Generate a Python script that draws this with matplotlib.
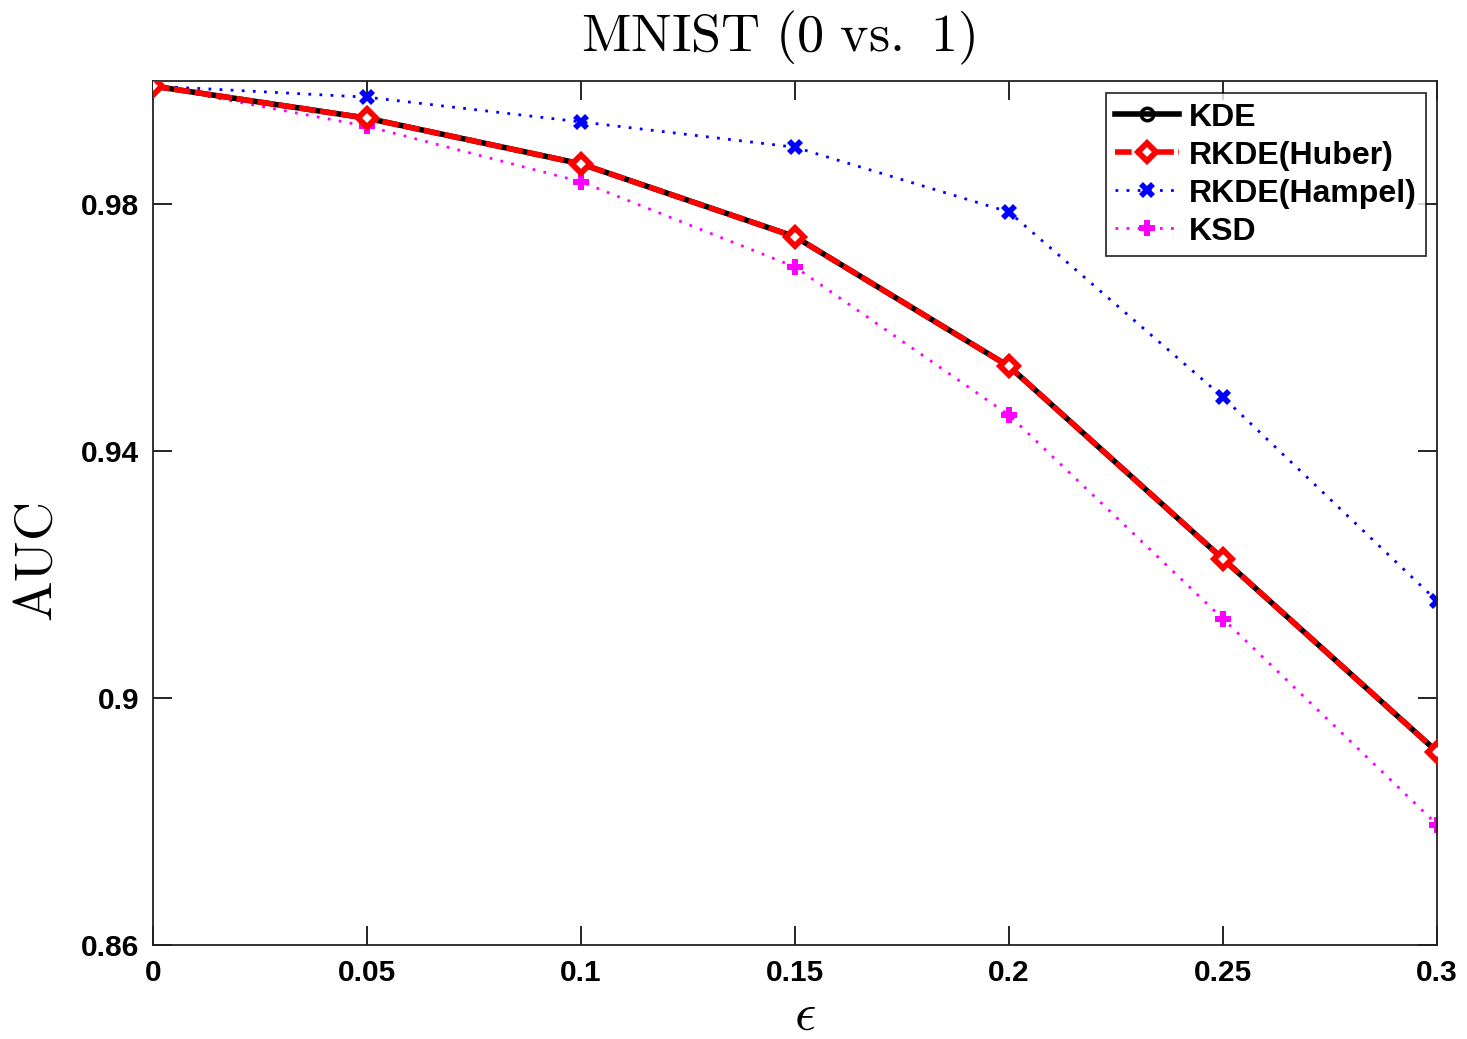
import matplotlib
matplotlib.use("Agg")
import matplotlib.pyplot as plt

eps = [0, 0.05, 0.1, 0.15, 0.2, 0.25, 0.3]
kde = [0.9991, 0.9939, 0.9865, 0.9747, 0.9537, 0.9225, 0.8913]
rkde_huber = [0.9991, 0.9939, 0.9865, 0.9747, 0.9537, 0.9225, 0.8913]
rkde_hampel = [0.9991, 0.9973, 0.9933, 0.9892, 0.9787, 0.9487, 0.9157]
ksd = [0.9991, 0.9926, 0.9836, 0.9698, 0.9458, 0.9128, 0.8795]
xticks = [0, 0.05, 0.1, 0.15, 0.2, 0.25, 0.3]
xticklabels = ["0", "0.05", "0.1", "0.15", "0.2", "0.25", "0.3"]
yticks = [0.86, 0.9, 0.94, 0.98]
yticklabels = ["0.86", "0.9", "0.94", "0.98"]

plt.rcParams['mathtext.fontset'] = 'cm'
fig = plt.figure(figsize=(14.67, 10.39), dpi=100)
ax = fig.add_axes([0.1043, 0.0905, 0.8753, 0.832])

ax.plot(eps, kde, color='black', lw=4, marker='o', ms=9, mfc='none', mew=2.5, label='KDE', zorder=3)
ax.plot(eps, rkde_huber, color='red', lw=4, ls=(0, (3.0, 0.8)), marker='D', ms=9, mfc='white', mew=4.2, label='RKDE(Huber)', zorder=4)
ax.plot(eps, rkde_hampel, color='blue', lw=2, ls=(0, (1, 3)), marker='X', ms=11, mew=0, label='RKDE(Hampel)', zorder=2)
ax.plot(eps, ksd, color='magenta', lw=2, ls=(0, (1, 3)), marker='P', ms=12, mew=0, label='KSD', zorder=2)

ax.set_xlim(0, 0.3)
ax.set_ylim(0.86, 1.0)
ax.set_xticks(xticks)
ax.set_xticklabels(xticklabels)
ax.set_yticks(yticks)
ax.set_yticklabels(yticklabels)
ax.tick_params(direction='in', length=14, width=1.2, top=True, right=True, pad=10)
for lab in ax.get_xticklabels() + ax.get_yticklabels():
    lab.set_fontfamily('Liberation Sans')
    lab.set_fontweight('bold')
    lab.set_fontsize(21.5)
for s in ax.spines.values():
    s.set_linewidth(1.3)
    s.set_color('#222222')

fig.text(0.530, 0.950, r'$\mathrm{MNIST\ (0\ vs.\ 1)}$', fontsize=39, ha='center', va='baseline')
fig.text(0.549, 0.009, r'$\epsilon$', fontsize=38, ha='center', va='baseline')
fig.text(0.025, 0.459, r'$\mathrm{AUC}$', fontsize=39, ha='center', va='center', rotation=90)

leg = ax.legend(loc='upper right', bbox_to_anchor=(0.9914, 0.9855), borderaxespad=0, fancybox=False, edgecolor='black',
                prop={'family': 'Liberation Sans', 'weight': 'bold', 'size': 23},
                handlelength=2.0, handletextpad=0.3, labelspacing=0.25, borderpad=0.3)
leg.get_frame().set_linewidth(1.3)

fig.savefig('out.png', dpi=100, facecolor='white')
